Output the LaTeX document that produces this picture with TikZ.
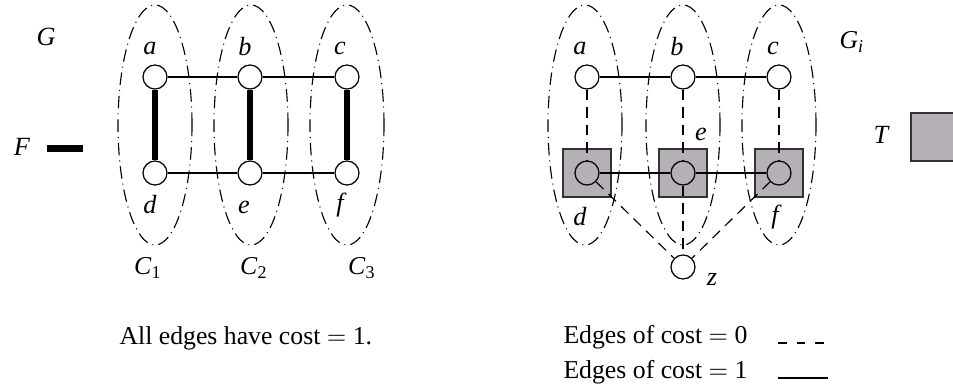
\documentclass[tikz,border=0pt]{standalone}
\usepackage{fontspec}
\setmainfont{Liberation Serif}
\usetikzlibrary{shapes.geometric}
\definecolor{sqfill}{RGB}{181,176,181}
\definecolor{sqline}{RGB}{50,50,50}
\begin{document}
\begin{tikzpicture}[x=0.4pt,y=-0.4pt,
  font=\fontsize{10.3}{12}\selectfont,
  vtx/.style={circle,draw,line width=0.5pt,minimum size=9.6pt,inner sep=0pt},
  lbl/.style={font=\fontsize{10.5}{12}\selectfont\itshape,inner sep=0pt},
  txt/.style={inner sep=0pt,anchor=west},
  onecost/.style={line width=0.45pt},
  heavy/.style={line width=2.4pt},
  zerocost/.style={line width=0.45pt,dash pattern=on 4.2pt off 2.8pt},
  clus/.style={ellipse,draw,line width=0.45pt,dash pattern=on 5pt off 2pt on 0.4pt off 2pt,
    minimum width=29.6pt,minimum height=96pt,inner sep=0pt},
  sq/.style={rectangle,draw=sqline,fill=sqfill,line width=0.6pt,minimum size=19.2pt,inner sep=0pt}
]
\useasboundingbox (0,0) rectangle (953,386);
\clip (0,0) rectangle (953,386);

% ---------- left graph G ----------
\node[clus] (C1e) at (155,125) {};
\node[clus] (C2e) at (251,125) {};
\node[clus] (C3e) at (347,125) {};

\node[vtx] (a) at (155,77) {};
\node[vtx] (b) at (250,77) {};
\node[vtx] (c) at (347,77) {};
\node[vtx] (d) at (155,173) {};
\node[vtx] (e) at (250,173) {};
\node[vtx] (f) at (347,173) {};

\draw[onecost] (a) -- (b);
\draw[onecost] (b) -- (c);
\draw[onecost] (d) -- (e);
\draw[onecost] (e) -- (f);
\draw[heavy] (a) -- (d);
\draw[heavy] (b) -- (e);
\draw[heavy] (c) -- (f);

\node[lbl] (la) at (150,48) {a};
\node[lbl] (lb) at (245,47) {b};
\node[lbl] (lc) at (340,48) {c};
\node[lbl] (ld) at (150,205) {d};
\node[lbl] (le) at (244,207) {e};
\node[lbl] (lf) at (340,205) {f};

\node[inner sep=0pt] (lC1) at (148,268) {\textit{C}\textsubscript{1}};
\node[inner sep=0pt] (lC2) at (254,268) {\textit{C}\textsubscript{2}};
\node[inner sep=0pt] (lC3) at (362,268) {\textit{C}\textsubscript{3}};

\node[lbl] (lG) at (46,37) {G};
\node[lbl] (lF) at (22,147) {F};
\coordinate (F1) at (47,149);
\coordinate (F2) at (83,149);
\draw[line width=2.8pt] (F1) -- (F2);

\node[txt] (allcost) at (119,338) {All edges have cost $=$ 1.};

% ---------- right graph G_i ----------
\node[clus] (D1e) at (585,125) {};
\node[clus] (D2e) at (683,125) {};
\node[clus] (D3e) at (779,125) {};

\node[sq] (sd) at (587,173) {};
\node[sq] (se) at (683,173) {};
\node[sq] (sf) at (779,173) {};

\node[vtx] (ra) at (587,77) {};
\node[vtx] (rb) at (683,77) {};
\node[vtx] (rc) at (779,77) {};
\node[vtx] (rd) at (587,173) {};
\node[vtx] (re) at (683,173) {};
\node[vtx] (rf) at (779,173) {};
\node[vtx] (z) at (683,267) {};

\draw[onecost] (ra) -- (rb);
\draw[onecost] (rb) -- (rc);
\draw[onecost] (rd) -- (re);
\draw[onecost] (re) -- (rf);
\draw[zerocost] (ra) -- (rd);
\draw[zerocost] (rb) -- (re);
\draw[zerocost] (rc) -- (rf);
\draw[zerocost] (rd) -- (z);
\draw[zerocost] (re) -- (z);
\draw[zerocost] (rf) -- (z);

\node[lbl] (lra) at (580,48) {a};
\node[lbl] (lrb) at (677,47) {b};
\node[lbl] (lrc) at (773,48) {c};
\node[lbl] (lrd) at (580,217) {d};
\node[lbl] (lre) at (701,134) {e};
\node[lbl] (lrf) at (775,217) {f};
\node[lbl] (lz) at (712,279) {z};

\node[inner sep=0pt] (lGi) at (852,42) {\textit{G}\textsubscript{\textit{i}}};
\node[lbl] (lT) at (881,135) {T};
\node[sq] (Tsq) at (935,137) {};

% ---------- legend ----------
\node[txt] (leg0) at (563,337) {Edges of cost $=$ 0};
\node[txt] (leg1) at (563,372) {Edges of cost $=$ 1};
\coordinate (l0a) at (778,343);
\coordinate (l0b) at (828,343);
\coordinate (l1a) at (778,378);
\coordinate (l1b) at (828,378);
\draw[line width=0.45pt,dash pattern=on 3.4pt off 4pt] (l0a) -- (l0b);
\draw[onecost] (l1a) -- (l1b);
\end{tikzpicture}
\end{document}
